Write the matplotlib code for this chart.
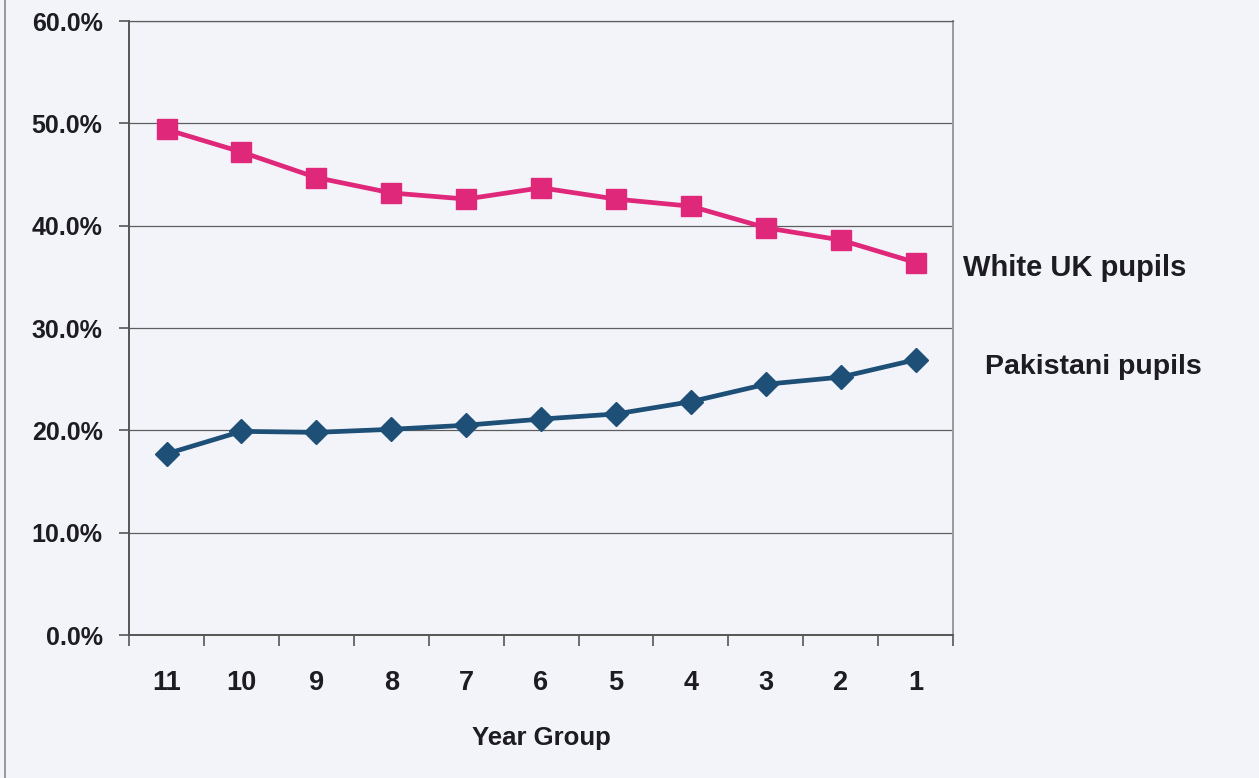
import matplotlib.pyplot as plt
from matplotlib.lines import Line2D
from matplotlib.ticker import PercentFormatter

# Year groups shown oldest to youngest
year_groups = ["11", "10", "9", "8", "7", "6", "5", "4", "3", "2", "1"]
white_uk = [49.4, 47.2, 44.7, 43.2, 42.6, 43.7, 42.6, 41.9, 39.8, 38.6, 36.4]
pakistani = [17.7, 19.9, 19.8, 20.1, 20.5, 21.1, 21.6, 22.8, 24.5, 25.2, 26.9]
y_ticks = [0, 10, 20, 30, 40, 50, 60]

pink = "#e0287a"
navy = "#1d4f77"
bg = "#f3f4fa"
text_col = "#1c1c22"

plt.rcParams['font.family'] = ['Liberation Sans Narrow', 'Liberation Sans', 'DejaVu Sans']
plt.rcParams['font.weight'] = 'bold'

fig = plt.figure(figsize=(12.59, 7.78), dpi=100, facecolor=bg)
ax = fig.add_axes([0.1025, 0.1838, 0.6545, 0.7892], facecolor=bg)

x = list(range(len(year_groups)))
ax.plot(x, white_uk, color=pink, lw=3.4, marker="s", ms=14, zorder=3)
ax.plot(x, pakistani, color=navy, lw=3.4, marker="D", ms=12.5, zorder=3)

ax.set_xlim(-0.5, len(year_groups) - 0.5)
ax.set_ylim(0, 60)
ax.set_yticks(y_ticks)
ax.yaxis.set_major_formatter(PercentFormatter(decimals=1))
ax.grid(axis="y", color="#5e5e5e", lw=0.9)
ax.set_axisbelow(True)

# category labels centred, tick marks on the boundaries
ax.set_xticks(x)
ax.set_xticklabels(year_groups)
ax.set_xticks([i - 0.5 for i in range(len(year_groups) + 1)], minor=True)
ax.tick_params(axis="x", which="major", length=0, pad=25, labelsize=19.5, labelcolor=text_col)
ax.tick_params(axis="x", which="minor", length=8, width=1.2, color="#555555", direction="out")
ax.tick_params(axis="y", length=7, width=1.2, color="#555555", pad=12, labelsize=18, labelcolor=text_col)

for side in ["left", "bottom"]:
    ax.spines[side].set_color("#555555")
    ax.spines[side].set_linewidth(1.4)
ax.spines["right"].set_color("#9a9a9a")
ax.spines["right"].set_linewidth(1.4)
ax.spines["top"].set_color("#5e5e5e")
ax.spines["top"].set_linewidth(0.9)

ax.set_xlabel("Year Group", fontsize=18.5, fontweight="bold", color=text_col, labelpad=22)

# series names beside the last points
ax.annotate("White UK pupils", xy=(1.0, white_uk[-1]), xycoords=("axes fraction", "data"),
            xytext=(7, -4), textcoords="offset points", fontsize=21,
            color=text_col, va="center", ha="left", annotation_clip=False)
ax.annotate("Pakistani pupils", xy=(1.0, pakistani[-1]), xycoords=("axes fraction", "data"),
            xytext=(23, -5), textcoords="offset points", fontsize=20.5,
            color=text_col, va="center", ha="left", annotation_clip=False)

# page border on the left edge
fig.add_artist(Line2D([5 / 1259, 5 / 1259], [0, 1], color="#8a8a8a", lw=1.2))

fig.savefig("out.png", dpi=100, facecolor=bg)
